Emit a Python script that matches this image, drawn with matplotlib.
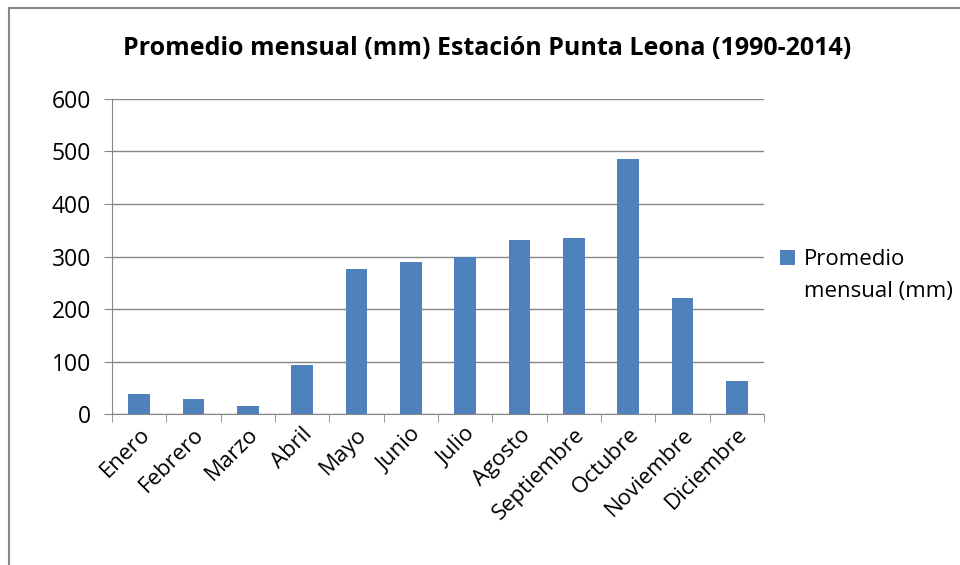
import matplotlib.pyplot as plt
import numpy as np
from matplotlib.patches import Rectangle

meses = ["Enero", "Febrero", "Marzo", "Abril", "Mayo", "Junio", "Julio",
         "Agosto", "Septiembre", "Octubre", "Noviembre", "Diciembre"]
promedio = [39, 29, 15, 93, 277, 290, 300, 331, 336, 485, 222, 63]
yticks = [0, 100, 200, 300, 400, 500, 600]

plt.rcParams['font.family'] = ['Open Sans', 'DejaVu Sans']

fig = plt.figure(figsize=(9.6, 5.65), dpi=100)
ax = fig.add_axes([0.1167, 0.2667, 0.6791, 0.5586])

x = np.arange(len(meses))
ax.bar(x, promedio, width=0.4, color='#4F81BD', label='Promedio\nmensual (mm)', zorder=3)

ax.set_xlim(-0.5, len(meses) - 0.5)
ax.set_ylim(0, 600)
ax.set_yticks(yticks)
ax.tick_params(axis='y', labelsize=16.5, length=6, color='#868686', pad=9)
ax.yaxis.grid(True, color='#868686', linewidth=1, zorder=0)

ax.set_xticks(x)
ax.set_xticklabels(meses, rotation=45, ha='right', rotation_mode='anchor', fontsize=16)
ax.tick_params(axis='x', length=0, pad=7)
ax.set_xticks(np.arange(-0.5, len(meses)), minor=True)
ax.tick_params(axis='x', which='minor', length=6, color='#868686')

for s in ['top', 'right']:
    ax.spines[s].set_visible(False)
ax.spines['left'].set_color('#868686')
ax.spines['bottom'].set_color('#868686')

fig.text(0.507, 0.915, "Promedio mensual (mm) Estación Punta Leona (1990-2014)",
         ha='center', va='center', fontsize=18, fontweight='bold')

leg = ax.legend(loc='center left', bbox_to_anchor=(1.0, 0.44), frameon=False,
                fontsize=16, handlelength=0.7, handleheight=0.7, handletextpad=0.4,
                borderaxespad=0.3)
for t in leg.get_texts():
    t.set_linespacing(1.7)
# marker sits next to the first line, like Excel
h = leg.legend_handles[0]
h.set_y(h.get_y() + 13)

fig.patches.append(Rectangle((0.009, -0.1), 1.1, 1.086, transform=fig.transFigure,
                             fill=False, edgecolor='#868686', linewidth=1.5))

fig.savefig('out.png', dpi=100)
